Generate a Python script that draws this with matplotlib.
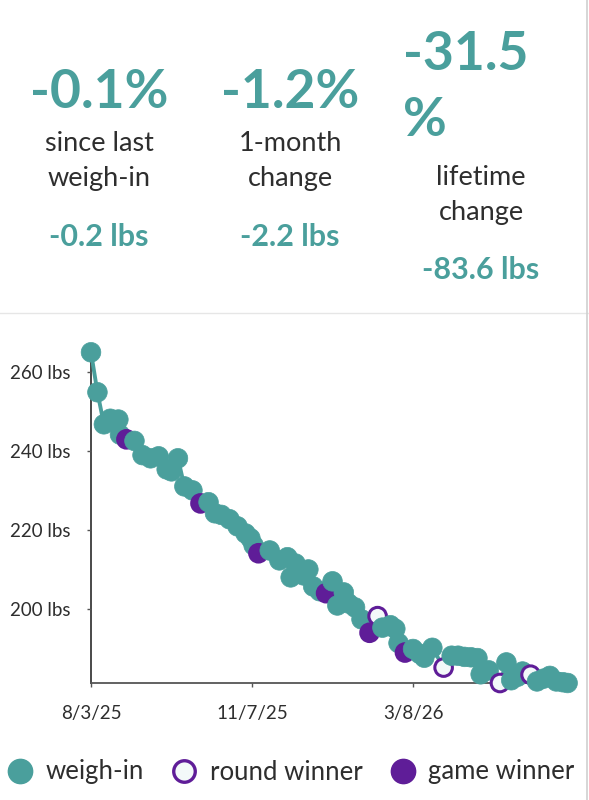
import matplotlib
matplotlib.use("Agg")
import matplotlib.pyplot as plt
from matplotlib.lines import Line2D

plt.rcParams['font.family'] = ['Lato', 'DejaVu Sans']

# ---- data ----
day = [0, 4, 8, 12, 17, 18, 22, 27, 32, 37, 42, 47, 50, 54, 58, 63, 68, 73, 77, 81,
       86, 91, 96, 99, 101, 104, 111, 117, 122, 124, 127, 132, 135, 138, 142, 146, 150,
       153, 157, 160, 164, 168, 173, 178, 181, 186, 189, 191, 195, 200, 204, 207, 212,
       219, 224, 228, 232, 236, 240, 242, 247, 254, 258, 261, 265, 268, 273, 277, 281,
       285, 289, 293, 296]
weight = [265.0, 254.9, 246.8, 248.2, 248.0, 244.2, 243.0, 242.6, 239.0, 238.2, 238.7,
          235.4, 234.9, 238.2, 231.1, 230.1, 226.8, 227.1, 224.3, 223.9, 222.8, 221.0,
          219.2, 218.0, 216.2, 214.2, 214.9, 212.4, 213.2, 208.1, 211.6, 208.6, 210.1,
          205.8, 204.6, 204.1, 207.1, 201.0, 204.3, 201.5, 200.5, 197.5, 194.1, 198.3,
          195.4, 196.0, 195.1, 191.5, 189.1, 190.0, 188.8, 187.8, 190.3, 185.3, 188.3,
          188.3, 188.0, 187.9, 187.7, 183.6, 184.6, 181.4, 186.6, 182.1, 183.0, 184.3,
          183.5, 181.8, 182.5, 183.2, 181.8, 181.6, 181.4]
# W = weigh-in, R = round winner, G = game winner
kind = list("WWWWWWGWWWWWWWWWGWWWWWWWWGWWWWWWWWWGWWWWWWGRWWWWGWWWWRWWWWWWWRWWWWRWWWWWW")

tick_days = [0, 100, 200]
tick_labels = ['8/3/25', '11/7/25', '3/8/26']
ytick_vals = [200, 220, 240, 260]

stats_pct = ['-0.1%', '-1.2%']
stats_lbl = ['since last\nweigh-in', '1-month\nchange']
stats_lbs = ['-0.2 lbs', '-2.2 lbs']
life_pct = ['-31.5', '%']
life_lbl = 'lifetime\nchange'
life_lbs = '-83.6 lbs'

TEAL = '#4a9f9c'
PURPLE = '#5f1d98'
DARK = '#2e2e2e'
RING_FILL = '#f3f9f9'

W, H = 589, 800
fig = plt.figure(figsize=(W / 100, H / 100), dpi=100)


def fx(px):
    return px / W


def fy(py):
    return 1 - py / H


# ---- header stats ----
for cx, p, l, b in zip([99, 290], stats_pct, stats_lbl, stats_lbs):
    fig.text(fx(cx), fy(92), p, color=TEAL, fontsize=38.5, fontweight='bold',
             ha='center', va='center')
    fig.text(fx(cx), fy(161), l, color=DARK, fontsize=19.5, ha='center', va='center',
             linespacing=1.5)
    fig.text(fx(cx), fy(237), b, color=TEAL, fontsize=22, fontweight='bold',
             ha='center', va='center')

fig.text(fx(403), fy(55), life_pct[0], color=TEAL, fontsize=38.5, fontweight='bold',
         ha='left', va='center')
fig.text(fx(403), fy(120), life_pct[1], color=TEAL, fontsize=38.5, fontweight='bold',
         ha='left', va='center')
fig.text(fx(481), fy(195), life_lbl, color=DARK, fontsize=19.5, ha='center', va='center',
         linespacing=1.5)
fig.text(fx(481), fy(270), life_lbs, color=TEAL, fontsize=22, fontweight='bold',
         ha='center', va='center')

# separator and right border
fig.add_artist(Line2D([0, 1], [fy(313), fy(313)], transform=fig.transFigure,
                      color='#e6e6e6', lw=1))
fig.add_artist(Line2D([fx(587), fx(587)], [0, 1], transform=fig.transFigure,
                      color='#cfcfcf', lw=1.2))

# ---- chart ----
y_top, y_bot = 352.3, 683.0
ax = fig.add_axes([fx(91), fy(y_bot), (567.6 - 91) / W, (y_bot - y_top) / H])
ax.set_xlim(0, max(day))
ax.set_ylim(min(weight), max(weight))

ax.plot(day, weight, color=TEAL, lw=2.8, zorder=2, solid_capstyle='round')

face = [TEAL if k == 'W' else (RING_FILL if k == 'R' else PURPLE) for k in kind]
edge = [TEAL if k == 'W' else PURPLE for k in kind]
size = [200 if k == 'W' else 160 for k in kind]
lws = [0.5 if k == 'W' else 2.2 for k in kind]
ax.scatter(day, weight, s=size, c=face, edgecolors=edge, linewidths=lws,
           zorder=3, clip_on=False)

for s in ['top', 'right']:
    ax.spines[s].set_visible(False)
ax.spines['left'].set_color('#3a3a3a')
ax.spines['bottom'].set_color('#555555')
ax.spines['left'].set_linewidth(1.3)
ax.spines['bottom'].set_linewidth(1.3)
ax.spines['left'].set_zorder(1)
ax.spines['bottom'].set_zorder(1)

ax.set_xticks(tick_days)
ax.set_xticklabels(tick_labels)
ax.set_yticks(ytick_vals)
ax.set_yticklabels([f'{v} lbs' for v in ytick_vals])
ax.tick_params(axis='x', length=3, width=1, color='#555555', pad=13,
               labelsize=13.5, labelcolor=DARK)
ax.tick_params(axis='y', length=3, width=1, color='#555555', pad=12,
               labelsize=13.5, labelcolor=DARK)
ax.set_facecolor('none')

# ---- legend ----
handles = [
    Line2D([], [], marker='o', ls='none', markersize=17.5, markerfacecolor=TEAL,
           markeredgecolor=TEAL, label='weigh-in'),
    Line2D([], [], marker='o', ls='none', markersize=15.5, markerfacecolor=RING_FILL,
           markeredgecolor=PURPLE, markeredgewidth=2.4, label='round winner'),
    Line2D([], [], marker='o', ls='none', markersize=17.5, markerfacecolor=PURPLE,
           markeredgecolor=PURPLE, label='game winner'),
]
leg = fig.legend(handles=handles, loc='center', bbox_to_anchor=(fx(291), fy(772)),
                 ncol=3, frameon=False, fontsize=18.5, handletextpad=0.5,
                 columnspacing=1.05, handlelength=1.0, labelcolor=DARK)

fig.savefig('out.png', dpi=100)
